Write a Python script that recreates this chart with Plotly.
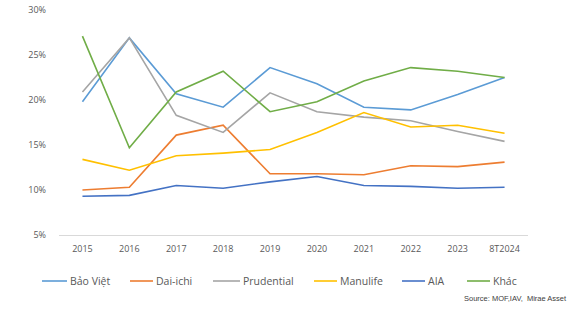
import plotly.graph_objects as go

categories = ["2015", "2016", "2017", "2018", "2019", "2020", "2021", "2022", "2023", "8T2024"]
bao_viet   = [19.8, 26.9, 20.7, 19.2, 23.6, 21.8, 19.2, 18.9, 20.6, 22.5]
dai_ichi   = [10.0, 10.3, 16.1, 17.2, 11.8, 11.8, 11.7, 12.7, 12.6, 13.1]
prudential = [20.9, 26.9, 18.3, 16.4, 20.8, 18.7, 18.1, 17.7, 16.5, 15.4]
manulife   = [13.4, 12.2, 13.8, 14.1, 14.5, 16.4, 18.6, 17.0, 17.2, 16.3]
aia        = [9.3, 9.4, 10.5, 10.2, 10.9, 11.5, 10.5, 10.4, 10.2, 10.3]
khac       = [27.1, 14.7, 20.9, 23.2, 18.7, 19.8, 22.1, 23.6, 23.2, 22.5]

series = [
    ("Bảo Việt", bao_viet, "#5B9BD5"),
    ("Dai-ichi", dai_ichi, "#ED7D31"),
    ("Prudential", prudential, "#A5A5A5"),
    ("Manulife", manulife, "#FFC000"),
    ("AIA", aia, "#4472C4"),
    ("Khác", khac, "#70AD47"),
]

W, H = 582, 312
L, R, T, B = 59, 54, 10, 77
PW, PH = W - L - R, H - T - B

def px_x(px):
    return (px - L) / PW

def px_y(py):
    return (H - B - py) / PH

fig = go.Figure()
for name, vals, color in series:
    fig.add_trace(go.Scatter(x=categories, y=vals, name=name, mode="lines",
                             line=dict(color=color, width=1.6)))

fig.update_layout(
    width=W, height=H,
    margin=dict(l=L, r=R, t=T, b=B, autoexpand=False),
    paper_bgcolor="white", plot_bgcolor="white",
    font=dict(family="Open Sans", size=9, color="#595959"),
    showlegend=False,
    xaxis=dict(type="category", range=[-0.5, 9.5], showgrid=False,
               showline=True, linecolor="#D9D9D9", linewidth=1,
               ticks="", ticklabelstandoff=5, zeroline=False, automargin=False),
    yaxis=dict(range=[5, 30], dtick=5, ticksuffix="%", showgrid=False,
               showline=False, zeroline=False, ticklabelstandoff=12, automargin=False),
)

# manual legend (line sample + label)
legend_pos = [(42, 67), (130, 153), (213, 240), (314, 337), (402, 425), (467, 490)]
ly = 281
for (name, _, color), (x0, x1) in zip(series, legend_pos):
    fig.add_shape(type="line", xref="paper", yref="paper",
                  x0=px_x(x0), x1=px_x(x1), y0=px_y(ly), y1=px_y(ly),
                  line=dict(color=color, width=1.6))
    fig.add_annotation(text=name, xref="paper", yref="paper",
                       x=px_x(x1 + 1), y=px_y(ly), xanchor="left", yanchor="middle",
                       showarrow=False, font=dict(size=10.5, color="#595959"))

fig.add_annotation(text="Source: MOF,IAV,  Mirae Asset", xref="paper", yref="paper",
                   x=px_x(569), y=px_y(298), xanchor="right", yanchor="middle", showarrow=False,
                   font=dict(family="Liberation Sans", size=7.5, color="#404040"))

fig.write_html("out.html", config={"displayModeBar": False},
               post_script="document.body.style.margin='0';")
